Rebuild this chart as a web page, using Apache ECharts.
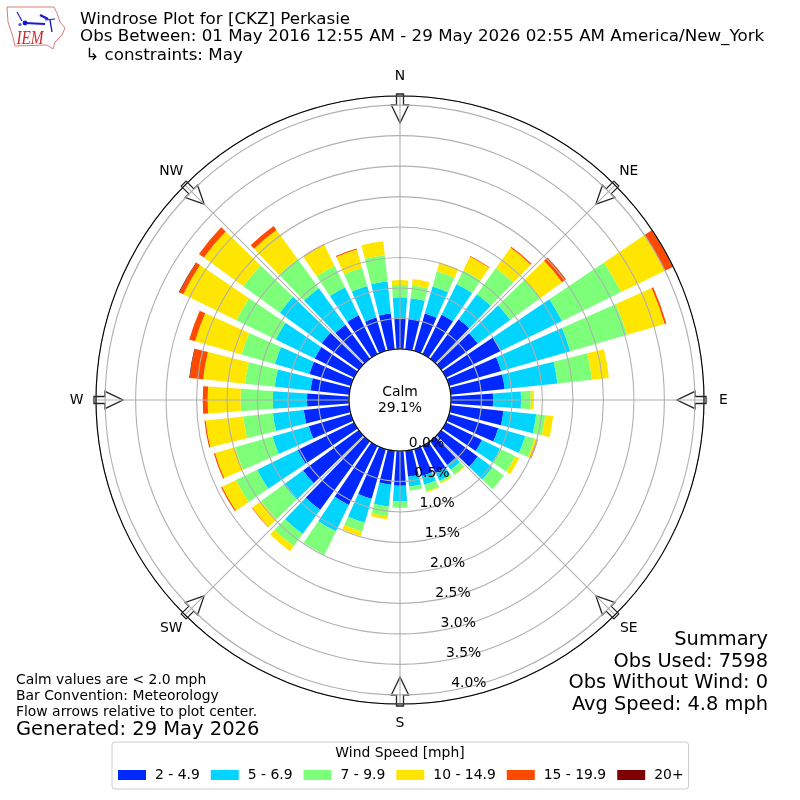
<!DOCTYPE html>
<html><head><meta charset="utf-8">
<style>html,body{margin:0;padding:0;background:#fff}#c{width:800px;height:800px}</style>
<script src="https://cdn.jsdelivr.net/npm/echarts@6/dist/echarts.min.js"></script>
</head><body><div id="c"></div>
<script>
const directions = ['0','10','20','30','40','50','60','70','80','90','100','110','120','130','140','150','160','170','180','190','200','210','220','230','240','250','260','270','280','290','300','310','320','330','340','350'];
const speedBands = ['2 - 4.9','5 - 6.9','7 - 9.9','10 - 14.9','15 - 19.9','20+'];
const bandColors = ['#0028ff','#00d4ff','#7dff7a','#ffe600','#ff4a00','#7f0000'];
const speed2to5 = [.51,.51,.64,.72,.80,.74,1.00,.89,.89,.69,.87,.84,.66,.74,.48,.51,.46,.43,.57,.56,.85,1.08,1.39,1.13,1.03,.72,.75,.69,.64,.71,.72,.75,.69,.71,.57,.59];
const speed5to7 = [.34,.33,.46,.56,.51,.66,1.12,1.18,.87,.46,.54,.46,.33,.30,.10,.13,.15,.16,.26,.36,.41,.48,.49,.39,.74,.62,.51,.56,.59,.59,.71,.85,.74,.51,.54,.53];
const speed7to10 = [.20,.21,.26,.25,.53,.61,1.08,.97,.57,.16,.15,.16,.28,.23,.10,.03,.11,.07,.10,.16,.15,.43,.25,.46,.39,.64,.49,.53,.49,.57,.72,.74,.59,.39,.31,.43];
const speed10to15 = [.08,.11,.15,.25,.41,.44,.80,.64,.28,.05,.13,.05,.07,0,.01,.02,.02,0,0,.05,.08,0,.10,.18,.25,.34,.62,.54,.69,.79,.97,.80,.59,.39,.31,.23];
const speed15to20 = [0,0,0,.01,.02,.08,.15,.03,0,0,0,.01,0,0,0,0,0,0,0,0,0,0,0,.01,.02,.02,.02,.08,.22,.10,.07,.10,.08,.01,.02,0];
const speed20up = [0,0,0,0,0,0,0,0,0,0,0,0,0,0,0,0,0,0,0,0,0,0,0,0,0,0,0,0,.01,0,.01,0,0,0,0,0];
const bandValues = [speed2to5,speed5to7,speed7to10,speed10to15,speed15to20,speed20up];
const compass = ['N','NE','E','SE','S','SW','W','NW'];
const titleLines = ['Windrose Plot for [CKZ] Perkasie','Obs Between: 01 May 2016 12:55 AM - 29 May 2026 02:55 AM America/New_York',' ↳ constraints: May'];
const summaryLines = ['Summary','Obs Used: 7598','Obs Without Wind: 0','Avg Speed: 4.8 mph'];
const noteLines = ['Calm values are < 2.0 mph','Bar Convention: Meteorology','Flow arrows relative to plot center.'];

const FONT = '"DejaVu Sans"';
const CX=400, CY=400, R0=51, R1=304, RMAX=4.15;
const graphics = [];
function txt(x,y,text,size,align,extra){
  graphics.push({type:'text',x:x,y:y,z:20,style:Object.assign({text:text,font:size+'px '+FONT,fill:'#000',align:align||'left',verticalAlign:'middle'},extra||{})});
}
titleLines.forEach((t,i)=>txt(80,[19.5,37,56][i],t,16.7));
summaryLines.forEach((t,i)=>txt(768,[640,662,683,705][i],t,19.4,'right'));
noteLines.forEach((t,i)=>txt(16,[680,696,712][i],t,13.9));
txt(16,730,'Generated: 29 May 2026',19.5);
txt(400,400,'Calm\n29.1%',13.9,'center',{lineHeight:16});
txt(400,753,'Wind Speed [mph]',13.9,'center');
compass.forEach((c,k)=>{
  const a=k*Math.PI/4;
  txt(CX+323.5*Math.sin(a),CY-323.5*Math.cos(a),c,13.9,'center');
  graphics.push({type:'polygon',x:CX,y:CY,rotation:-a,z:1,
    shape:{points:[[-3.5,-306],[3.5,-306],[3.5,-295],[8.7,-295],[0,-277],[-8.7,-295],[-3.5,-295]]},
    style:{fill:'#fff',stroke:'#222',lineWidth:1.3}});
});
// IEM logo
graphics.push({type:'polygon',z:3,shape:{points:[[7,7],[54,7],[57,13],[60,22],[65,28],[62,35],[55,42],[53,49],[47,45],[15,46],[13,37],[8,22]]},style:{fill:'#fff',stroke:'#e07a7a',lineWidth:1}});
[[[25,23],[45,24],2.2],[[45,20],[55,19],1.2],[[17,12],[22,21],1.2],[[40,15],[48,19],2.4],[[50,20],[52,32],1.4]].forEach(p=>{
  graphics.push({type:'polyline',z:4,shape:{points:[p[0],p[1]]},style:{stroke:'#1a1ad0',lineWidth:p[2],fill:'none'}});
});
graphics.push({type:'circle',z:4,shape:{cx:25,cy:23,r:2.4},style:{fill:'#1a1ad0'}});
graphics.push({type:'circle',z:4,shape:{cx:20,cy:24.5,r:1.6},style:{fill:'#3a5ad0'}});
graphics.push({type:'text',x:30,y:39,z:4,scaleX:.85,originX:0,style:{text:'IEM',font:'italic 18px "Liberation Serif"',fill:'#cc2a2a',align:'center',verticalAlign:'middle'}});

const polarBase={center:[CX,CY],radius:[R0,R1]};
const option={
  animation:false,
  backgroundColor:'#fff',
  textStyle:{fontFamily:FONT},
  polar:[polarBase,polarBase,polarBase],
  angleAxis:[
    {polarIndex:0,type:'category',data:directions,startAngle:95,boundaryGap:true,show:false},
    {polarIndex:1,type:'value',min:0,max:360,interval:45,startAngle:90,z:5,
      axisLine:{show:true,lineStyle:{color:'#000',width:1.1}},axisTick:{show:false},
      axisLabel:{show:false},
      splitLine:{show:true,lineStyle:{color:'#b0b0b0',width:1.1}}},
    {polarIndex:2,type:'value',min:0,max:360,startAngle:-80,show:false}
  ],
  radiusAxis:[
    {polarIndex:0,type:'value',min:0,max:RMAX,show:false},
    {polarIndex:1,type:'value',min:0,max:RMAX,interval:.5,z:5,
      axisLine:{show:false},axisTick:{show:false},axisLabel:{show:false},
      splitLine:{show:true,lineStyle:{color:'#b0b0b0',width:1.1}}},
    {polarIndex:2,type:'value',min:0,max:RMAX,interval:.5,z:10,
      axisLine:{show:false},axisTick:{show:false},splitLine:{show:false},
      axisLabel:{show:true,margin:0,fontSize:13.9,color:'#000',fontFamily:FONT,align:'left',verticalAlign:'bottom',hideOverlap:false,
        formatter:v=>v>4.1?'':v.toFixed(1)+'%'}}
  ],
  legend:{left:112,top:742,orient:'horizontal',padding:[26,5,7,6],itemWidth:28,itemHeight:10,itemGap:11,
    borderColor:'#ccc',borderWidth:1,borderRadius:3,backgroundColor:'#fff',icon:'rect',
    data:speedBands,textStyle:{fontSize:13.9,color:'#000',fontFamily:FONT,padding:[0,0,0,4]}},
  graphic:{elements:graphics},
  series:speedBands.map((name,i)=>({
    name:name,type:'bar',coordinateSystem:'polar',polarIndex:0,stack:'wind',
    barWidth:'80%',data:bandValues[i],itemStyle:{color:bandColors[i]},silent:true,z:2
  }))
};
echarts.init(document.getElementById('c'),null,{renderer:'canvas'}).setOption(option);
</script></body></html>
